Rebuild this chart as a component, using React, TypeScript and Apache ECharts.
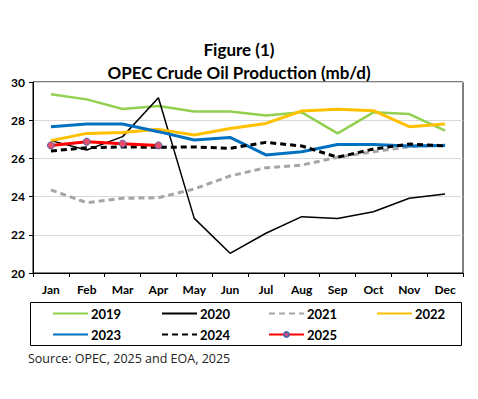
import React, { useEffect, useRef } from "react";
import * as echarts from "echarts";

const months = ["Jan", "Feb", "Mar", "Apr", "May", "Jun", "Jul", "Aug", "Sep", "Oct", "Nov", "Dec"];
const yTicks = [20, 22, 24, 26, 28, 30];
const s2019 = [29.36, 29.09, 28.59, 28.74, 28.45, 28.45, 28.24, 28.41, 27.31, 28.41, 28.32, 27.45];
const s2020 = [26.93, 26.44, 27.14, 29.18, 22.86, 21.03, 22.08, 22.95, 22.85, 23.21, 23.91, 24.14];
const s2021 = [24.35, 23.68, 23.91, 23.94, 24.4, 25.08, 25.51, 25.65, 26.06, 26.35, 26.61, 26.7];
const s2022 = [26.93, 27.31, 27.35, 27.52, 27.23, 27.57, 27.83, 28.48, 28.57, 28.5, 27.66, 27.8];
const s2023 = [27.66, 27.8, 27.8, 27.4, 26.96, 27.1, 26.18, 26.35, 26.73, 26.73, 26.65, 26.67];
const s2024 = [26.39, 26.56, 26.6, 26.58, 26.6, 26.53, 26.84, 26.65, 26.06, 26.49, 26.75, 26.65];
const s2025 = [26.68, 26.87, 26.77, 26.68];

const FONT = "Lato";

export default function App() {
  const ref = useRef<HTMLDivElement>(null);
  useEffect(() => {
    document.body.style.margin = "0";
    const chart = echarts.init(ref.current!, null, { renderer: "svg" });
    const lineSeries = (name: string, data: number[], color: string, width: number, type: any) => ({
      name,
      type: "line",
      data,
      symbol: "none",
      showSymbol: false,
      lineStyle: { color, width, type },
      itemStyle: { color },
    });
    const legendItem = (name: string, left: number, top: number, hideSymbol = true) => ({
      data: [name],
      left,
      top,
      itemWidth: 35,
      itemHeight: 6,
      itemGap: 0,
      padding: 0,
      ...(hideSymbol ? { itemStyle: { opacity: 0 } } : {}),
      textStyle: { fontFamily: FONT, fontWeight: "bold", fontSize: 13, color: "#000", padding: [0, 0, 0, -2] },
    });
    chart.setOption({
      animation: false,
      title: [
        {
          text: "Figure (1)",
          left: "center",
          top: 36,
          textStyle: { fontFamily: FONT, fontWeight: "bold", fontSize: 17, color: "#000" },
        },
        {
          text: "OPEC Crude Oil Production (mb/d)",
          left: "center",
          top: 59,
          textStyle: { fontFamily: FONT, fontWeight: "bold", fontSize: 17, color: "#000" },
        },
      ],
      grid: {
        left: 33,
        top: 82,
        right: 15,
        bottom: 126,
        show: true,
        borderColor: "#000",
        borderWidth: 1,
      },
      xAxis: {
        type: "category",
        data: months,
        boundaryGap: true,
        axisLine: { lineStyle: { color: "#000", width: 1 } },
        axisTick: { show: true, length: 4, alignWithLabel: false, lineStyle: { color: "#000" } },
        axisLabel: { fontFamily: FONT, fontWeight: "bold", fontSize: 12, color: "#000", margin: 10 },
      },
      yAxis: {
        type: "value",
        min: 20,
        max: 30,
        interval: 2,
        axisLine: { show: true, lineStyle: { color: "#000", width: 1 } },
        axisTick: { show: true, length: 4, lineStyle: { color: "#000" } },
        axisLabel: {
          fontFamily: FONT,
          fontWeight: "bold",
          fontSize: 12,
          color: "#000",
          margin: 8,
          formatter: (v: number) => (yTicks.includes(v) ? String(v) : ""),
        },
        splitLine: { show: true, lineStyle: { color: "#d9d9d9", width: 1 } },
      },
      legend: [
        legendItem("2019", 52, 307),
        legendItem("2020", 161, 307),
        legendItem("2021", 268, 307),
        legendItem("2022", 376, 307),
        legendItem("2023", 52, 328),
        legendItem("2024", 161, 328),
        legendItem("2025", 268, 328, false),
      ],
      series: [
        lineSeries("2019", s2019, "#92D050", 2.5, "solid"),
        lineSeries("2020", s2020, "#000000", 1.5, "solid"),
        lineSeries("2021", s2021, "#A6A6A6", 3, [6, 4]),
        lineSeries("2022", s2022, "#FFC000", 3, "solid"),
        lineSeries("2023", s2023, "#0070C0", 3, "solid"),
        lineSeries("2024", s2024, "#000000", 3, [6, 4]),
        {
          name: "2025",
          type: "line",
          data: s2025,
          symbol: "circle",
          symbolSize: 7,
          showSymbol: true,
          lineStyle: { color: "#FF0000", width: 3 },
          itemStyle: { color: "#E8506A", borderColor: "#4F5FA8", borderWidth: 1 },
          z: 10,
        },
      ],
      graphic: [
        {
          type: "rect",
          shape: { x: 30.5, y: 302.5, width: 431, height: 43 },
          style: { fill: "none", stroke: "#000", lineWidth: 1 },
          silent: true,
        },
        {
          type: "text",
          x: 28,
          y: 352,
          style: {
            text: "Source: OPEC, 2025 and EOA, 2025",
            fontFamily: "Open Sans",
            fontSize: 12.5,
            fill: "#222",
          },
        },
      ],
    });
    return () => chart.dispose();
  }, []);
  return <div ref={ref} style={{ width: 478, height: 399 }} />;
}
